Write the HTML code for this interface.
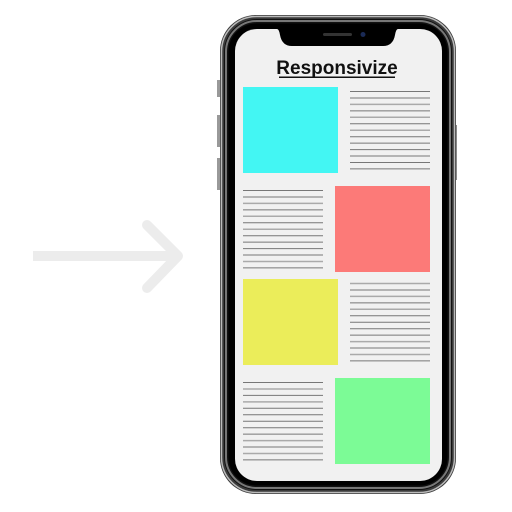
<!DOCTYPE html><html><head><style>html,body{margin:0;padding:0;background:#fff;width:512px;height:512px;overflow:hidden}</style></head><body>
<svg width="512" height="512" viewBox="0 0 512 512" xmlns="http://www.w3.org/2000/svg">
<g stroke="#ececec" stroke-width="10" stroke-linecap="round" fill="none" stroke-linejoin="round">
<line x1="33" y1="256" x2="178" y2="256" stroke-linecap="butt"/>
<polyline points="147,225 178,256 147,288"/>
</g>
<rect x="217" y="80" width="3" height="17" fill="#999"/>
<rect x="217" y="115" width="3" height="32" fill="#999"/>
<rect x="217" y="158" width="3" height="32" fill="#999"/>
<rect x="455" y="125" width="2" height="55" fill="#888"/>
<rect x="220" y="15" width="236" height="479" rx="36" fill="#3a3a3a"/>
<rect x="221.5" y="16.5" width="233" height="476" rx="35" fill="none" stroke="#bbb" stroke-width="1.5"/>
<rect x="224" y="19" width="228" height="471" rx="33" fill="#111"/>
<rect x="226" y="21" width="224" height="467" rx="31" fill="none" stroke="#777" stroke-width="2"/>
<rect x="228.5" y="23.5" width="219" height="462" rx="28" fill="#000"/>
<rect x="235" y="29" width="207" height="452" rx="22" fill="#f1f1f1"/>
<path d="M277 29 H398 Q396 29 395 35 Q393 46 383 46 H292 Q282 46 280 35 Q279 29 277 29Z" fill="#000"/>
<rect x="323" y="33" width="29" height="3" rx="1.5" fill="#333"/>
<circle cx="363" cy="34.5" r="2.5" fill="#1a2a55"/>
<text x="337" y="74" text-anchor="middle" font-family="Liberation Sans, sans-serif" font-weight="bold" font-size="19" fill="#111">Responsivize</text>
<rect x="279" y="76.5" width="116" height="1.5" fill="#111"/>
<rect x="243" y="87" width="95" height="86" fill="#43f6f3"/>
<rect x="335" y="186" width="95" height="86" fill="#fc7a78"/>
<rect x="243" y="279" width="95" height="86" fill="#ebed5a"/>
<rect x="335" y="378" width="95" height="86" fill="#7cfb96"/>
<g transform="translate(350,91)" stroke="#777" stroke-width="1"><line x1="0" y1="0.5" x2="80" y2="0.5"/><line x1="0" y1="7" x2="80" y2="7"/><line x1="0" y1="13.4" x2="80" y2="13.4" stroke="#aaa" stroke-width="1.5"/><line x1="0" y1="19.9" x2="80" y2="19.9"/><line x1="0" y1="26.3" x2="80" y2="26.3" stroke="#aaa" stroke-width="1.5"/><line x1="0" y1="32.8" x2="80" y2="32.8"/><line x1="0" y1="39.2" x2="80" y2="39.2" stroke="#aaa" stroke-width="1.5"/><line x1="0" y1="45.7" x2="80" y2="45.7"/><line x1="0" y1="52.1" x2="80" y2="52.1"/><line x1="0" y1="58.6" x2="80" y2="58.6"/><line x1="0" y1="65" x2="80" y2="65"/><line x1="0" y1="71.5" x2="80" y2="71.5"/><line x1="0" y1="77.9" x2="80" y2="77.9"/></g>
<g transform="translate(243,190)" stroke="#777" stroke-width="1"><line x1="0" y1="0.5" x2="80" y2="0.5"/><line x1="0" y1="7" x2="80" y2="7"/><line x1="0" y1="13.4" x2="80" y2="13.4" stroke="#aaa" stroke-width="1.5"/><line x1="0" y1="19.9" x2="80" y2="19.9"/><line x1="0" y1="26.3" x2="80" y2="26.3" stroke="#aaa" stroke-width="1.5"/><line x1="0" y1="32.8" x2="80" y2="32.8"/><line x1="0" y1="39.2" x2="80" y2="39.2" stroke="#aaa" stroke-width="1.5"/><line x1="0" y1="45.7" x2="80" y2="45.7"/><line x1="0" y1="52.1" x2="80" y2="52.1"/><line x1="0" y1="58.6" x2="80" y2="58.6"/><line x1="0" y1="65" x2="80" y2="65"/><line x1="0" y1="71.5" x2="80" y2="71.5" stroke="#aaa" stroke-width="1.5"/><line x1="0" y1="77.9" x2="80" y2="77.9"/></g>
<g transform="translate(350,283)" stroke="#777" stroke-width="1"><line x1="0" y1="0.5" x2="80" y2="0.5" stroke="#aaa" stroke-width="1.5"/><line x1="0" y1="7" x2="80" y2="7"/><line x1="0" y1="13.4" x2="80" y2="13.4" stroke="#aaa" stroke-width="1.5"/><line x1="0" y1="19.9" x2="80" y2="19.9"/><line x1="0" y1="26.3" x2="80" y2="26.3" stroke="#aaa" stroke-width="1.5"/><line x1="0" y1="32.8" x2="80" y2="32.8"/><line x1="0" y1="39.2" x2="80" y2="39.2"/><line x1="0" y1="45.7" x2="80" y2="45.7"/><line x1="0" y1="52.1" x2="80" y2="52.1"/><line x1="0" y1="58.6" x2="80" y2="58.6" stroke="#aaa" stroke-width="1.5"/><line x1="0" y1="65" x2="80" y2="65"/><line x1="0" y1="71.5" x2="80" y2="71.5" stroke="#aaa" stroke-width="1.5"/><line x1="0" y1="77.9" x2="80" y2="77.9"/></g>
<g transform="translate(243,382)" stroke="#777" stroke-width="1"><line x1="0" y1="0.5" x2="80" y2="0.5"/><line x1="0" y1="7" x2="80" y2="7" stroke="#aaa" stroke-width="1.5"/><line x1="0" y1="13.4" x2="80" y2="13.4"/><line x1="0" y1="19.9" x2="80" y2="19.9" stroke="#aaa" stroke-width="1.5"/><line x1="0" y1="26.3" x2="80" y2="26.3"/><line x1="0" y1="32.8" x2="80" y2="32.8"/><line x1="0" y1="39.2" x2="80" y2="39.2"/><line x1="0" y1="45.7" x2="80" y2="45.7"/><line x1="0" y1="52.1" x2="80" y2="52.1"/><line x1="0" y1="58.6" x2="80" y2="58.6" stroke="#aaa" stroke-width="1.5"/><line x1="0" y1="65" x2="80" y2="65"/><line x1="0" y1="71.5" x2="80" y2="71.5" stroke="#aaa" stroke-width="1.5"/><line x1="0" y1="77.9" x2="80" y2="77.9"/></g>
</svg>
</body></html>
